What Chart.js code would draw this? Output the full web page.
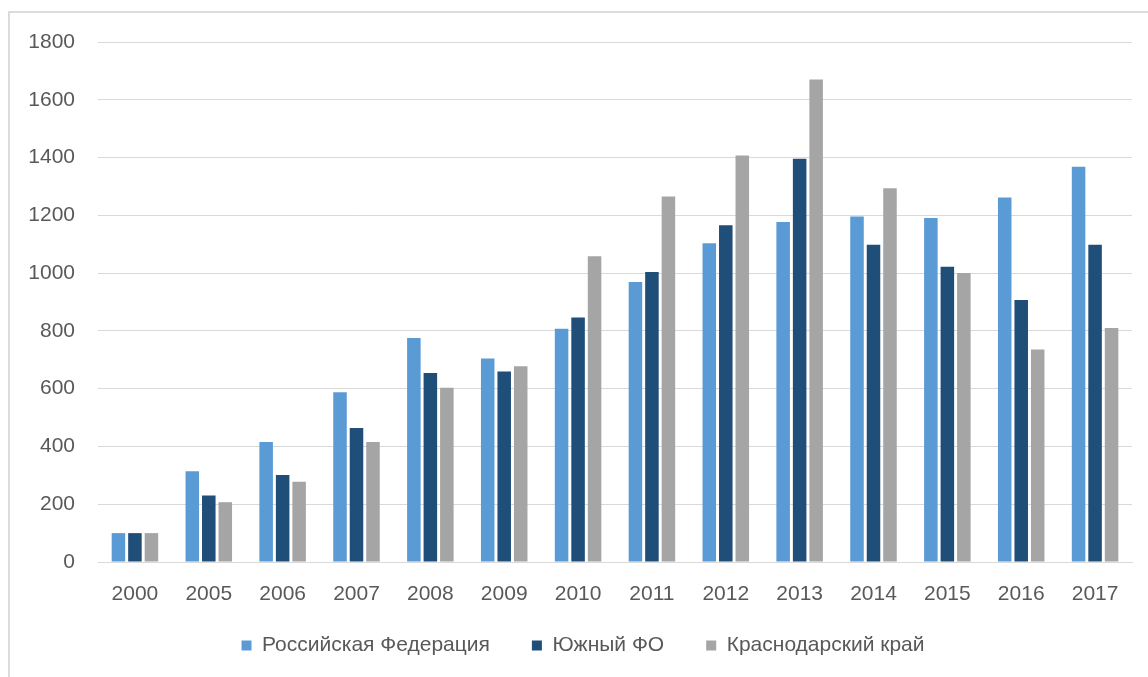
<!DOCTYPE html>
<html>
<head>
<meta charset="utf-8">
<script src="https://cdn.jsdelivr.net/npm/chart.js@4"></script>
<style>
  html, body { margin: 0; padding: 0; background: #fff; overflow: hidden; }
  #wrap { position: relative; width: 1148px; height: 677px; overflow: hidden; }
  #frame { position: absolute; left: 8px; top: 11px; width: 1200px; height: 720px; border: 2px solid #dcdcdc; box-sizing: border-box; }
  canvas { position: absolute; left: 0; top: 0; }
</style>
</head>
<body>
<div id="wrap">
  <div id="frame"></div>
  <canvas id="chart" width="1148" height="680"></canvas>
</div>
<script>
// Годы
const years = ['2000', '2005', '2006', '2007', '2008', '2009', '2010', '2011', '2012', '2013', '2014', '2015', '2016', '2017'];

// Ряды
const russia = [100, 314, 415, 588, 775, 704, 807, 969, 1103, 1177, 1196, 1191, 1262, 1368];
const south = [100, 230, 301, 464, 654, 659, 846, 1004, 1166, 1396, 1098, 1022, 907, 1098];
const krasnodar = [100, 207, 278, 415, 603, 678, 1058, 1265, 1407, 1670, 1294, 1000, 736, 810];

const yTicks = [0, 200, 400, 600, 800, 1000, 1200, 1400, 1600, 1800];

const font = "'Liberation Sans', sans-serif";
const textColor = '#595959';

// легенда в Excel стоит чуть правее и ближе к подписям
const shiftLegend = {
  id: 'shiftLegend',
  afterLayout(chart) {
    const lg = chart.legend;
    lg.left += 7;
    lg.right += 7;
    lg.top -= 14;
    lg.bottom -= 14;
  }
};

const ctx = document.getElementById('chart').getContext('2d');
new Chart(ctx, {
  type: 'bar',
  data: {
    labels: years,
    datasets: [
      { label: 'Российская Федерация', data: russia, backgroundColor: '#5B9BD5' },
      { label: 'Южный ФО', data: south, backgroundColor: '#1F4E79' },
      { label: 'Краснодарский край', data: krasnodar, backgroundColor: '#A5A5A5' }
    ]
  },
  plugins: [shiftLegend],
  options: {
    responsive: false,
    animation: false,
    layout: { padding: { left: 20, right: 16, top: 42, bottom: 0 } },
    datasets: {
      bar: { categoryPercentage: 0.67, barPercentage: 0.82 }
    },
    scales: {
      y: {
        min: 0,
        max: 1800,
        afterFit: s => { s.width = 78; },
        afterBuildTicks: s => { s.ticks = yTicks.map(v => ({ value: v })); },
        grid: { color: '#d9d9d9', lineWidth: 1, drawTicks: false },
        border: { display: false },
        ticks: { color: textColor, padding: 23, font: { family: font, size: 21 }, callback: v => String(v) }
      },
      x: {
        afterFit: s => { s.height = 45; },
        grid: { display: false },
        border: { color: '#d9d9d9' },
        ticks: { color: textColor, padding: 12, font: { family: font, size: 21 } }
      }
    },
    plugins: {
      legend: {
        position: 'bottom',
        labels: {
          color: textColor,
          boxWidth: 10,
          boxHeight: 10,
          padding: 42,
          font: { family: font, size: 21 }
        }
      },
      tooltip: { enabled: false }
    }
  }
});
</script>
</body>
</html>
